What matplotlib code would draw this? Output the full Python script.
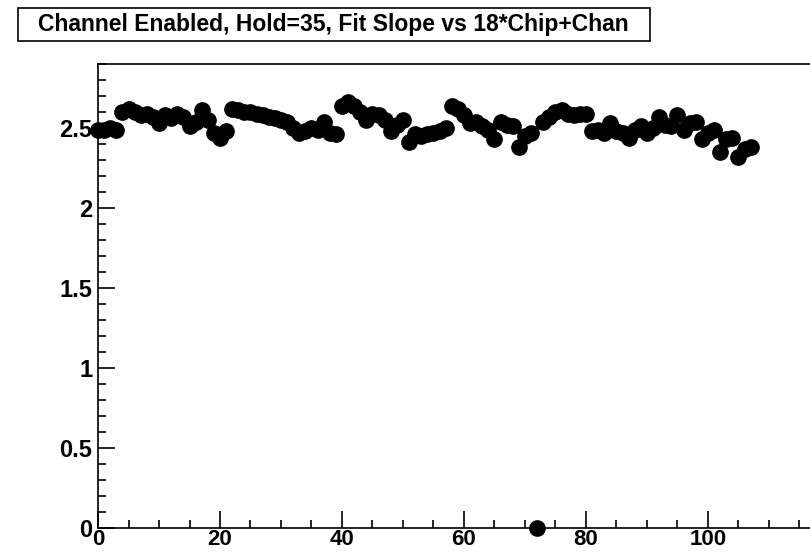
import matplotlib
matplotlib.use("Agg")
import matplotlib.pyplot as plt
from matplotlib.patches import Rectangle
from matplotlib.ticker import MultipleLocator

title = "Channel Enabled, Hold=35, Fit Slope vs 18*Chip+Chan"

channel = list(range(108))
slope = [
    2.49, 2.49, 2.50, 2.49, 2.60, 2.62, 2.60, 2.58, 2.59, 2.57,
    2.53, 2.58, 2.56, 2.59, 2.57, 2.51, 2.54, 2.61, 2.55, 2.47,
    2.44, 2.48, 2.62, 2.61, 2.60, 2.60, 2.59, 2.58, 2.57, 2.56,
    2.55, 2.54, 2.50, 2.47, 2.48, 2.50, 2.49, 2.54, 2.47, 2.46,
    2.64, 2.66, 2.64, 2.60, 2.55, 2.59, 2.58, 2.55, 2.48, 2.52,
    2.55, 2.41, 2.46, 2.45, 2.46, 2.47, 2.48, 2.50, 2.64, 2.62,
    2.58, 2.53, 2.54, 2.51, 2.49, 2.43, 2.54, 2.52, 2.51, 2.38,
    2.45, 2.47, 0.00, 2.54, 2.57, 2.60, 2.61, 2.59, 2.58, 2.59,
    2.59, 2.48, 2.49, 2.47, 2.53, 2.48, 2.47, 2.44, 2.49, 2.51,
    2.47, 2.50, 2.57, 2.52, 2.51, 2.58, 2.49, 2.53, 2.54, 2.43,
    2.47, 2.49, 2.35, 2.43, 2.44, 2.32, 2.37, 2.38,
]

plt.rcParams['font.family'] = ['Liberation Sans', 'DejaVu Sans']

fig = plt.figure(figsize=(8.10, 5.54), dpi=100)
W, H = 810, 554
x0, x1 = 98, 810
y0, y1 = 528, 64
ax = fig.add_axes([x0 / W, 1 - y0 / H, (x1 - x0) / W, (y0 - y1) / H])

ax.plot(channel, slope, linestyle='none', marker='o', markersize=11,
        color='black', clip_on=False)

ax.set_xlim(0, (x1 - x0) / 6.1)
ax.set_ylim(0, 2.9)
ax.xaxis.set_major_locator(MultipleLocator(20))
ax.xaxis.set_minor_locator(MultipleLocator(5))
ax.yaxis.set_major_locator(MultipleLocator(0.5))
ax.yaxis.set_minor_locator(MultipleLocator(0.1))
ax.yaxis.set_major_formatter(matplotlib.ticker.FuncFormatter(
    lambda v, p: ('%g' % v)))
ax.tick_params(axis='both', which='major', direction='in', length=12,
               width=1.2, labelsize=17, pad=4)
ax.tick_params(axis='x', which='major', labelsize=16, pad=1)
ax.tick_params(axis='both', which='minor', direction='in', length=6, width=1.2)
for lab in ax.get_xticklabels() + ax.get_yticklabels():
    lab.set_fontweight('bold')
for s in ax.spines.values():
    s.set_linewidth(1.2)
ax.spines['right'].set_visible(False)

# title box
bx0, by0, bx1, by1 = 18, 8, 650, 41
fig.patches.append(Rectangle((bx0 / W, 1 - by1 / H), (bx1 - bx0) / W,
                             (by1 - by0) / H, transform=fig.transFigure,
                             facecolor='white', edgecolor='black',
                             linewidth=1.2))
fig.text(38 / W, 1 - (by0 + by1) / 2 / H, title, fontsize=16.5,
         fontweight='bold', va='center', ha='left')

fig.savefig("out.png", dpi=100)
